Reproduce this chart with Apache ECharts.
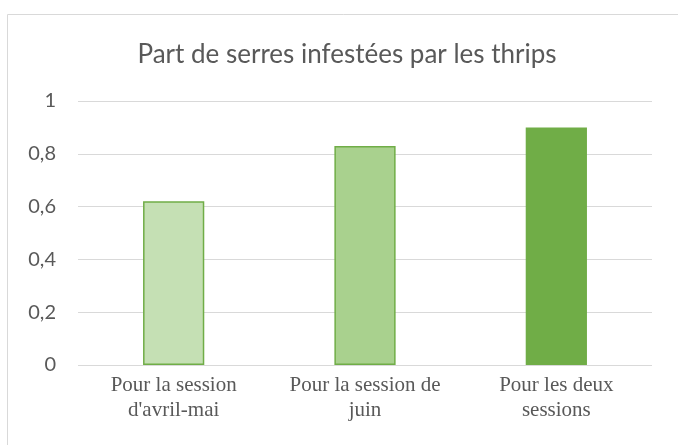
<!DOCTYPE html>
<html>
<head>
<meta charset="utf-8">
<script src="https://cdn.jsdelivr.net/npm/echarts@6/dist/echarts.min.js"></script>
<style>
  html, body { margin: 0; padding: 0; background: #fff; }
  #main { width: 678px; height: 445px; }
</style>
</head>
<body>
<div id="main"></div>
<script>
// data
const categories = ['Pour la session\nd\'avril-mai', 'Pour la session de\njuin', 'Pour les deux\nsessions'];
const values = [0.62, 0.83, 0.9];
const fills = ['#C5E0B4', '#A9D18E', '#70AD47'];

const chart = echarts.init(document.getElementById('main'));

const option = {
    animation: false,
    title: {
        text: 'Part de serres infestées par les thrips',
        left: 342,
        textAlign: 'center',
        top: 37,
        textStyle: {
            fontFamily: 'Lato',
            fontSize: 26,
            fontWeight: 'normal',
            color: '#595959'
        }
    },
    graphic: [{
        type: 'rect',
        shape: { x: 7.5, y: 14.5, width: 700, height: 460 },
        style: { fill: 'none', stroke: '#D9D9D9', lineWidth: 1 },
        silent: true
    }],
    grid: { left: 78, right: 26, top: 101, bottom: 80 },
    xAxis: {
        type: 'category',
        data: categories,
        axisLine: { show: false },
        axisTick: { show: false },
        axisLabel: {
            interval: 0,
            hideOverlap: false,
            margin: 8,
            fontFamily: 'Liberation Serif',
            fontSize: 21,
            lineHeight: 25,
            color: '#595959'
        }
    },
    yAxis: {
        type: 'value',
        min: 0,
        max: 1,
        interval: 0.2,
        axisLine: { show: false },
        axisTick: { show: false },
        splitLine: { lineStyle: { color: '#D9D9D9', width: 1 } },
        axisLabel: {
            margin: 22,
            fontFamily: 'Lato',
            fontSize: 20,
            color: '#595959',
            formatter: v => String(Math.round(v * 10) / 10).replace('.', ',')
        }
    },
    series: [{
        type: 'bar',
        barWidth: '32%',
        data: values.map((v, i) => ({
            value: v,
            itemStyle: {
                color: fills[i],
                borderColor: '#70AD47',
                borderWidth: 1.5
            }
        }))
    }]
};

chart.setOption(option);
</script>
</body>
</html>
